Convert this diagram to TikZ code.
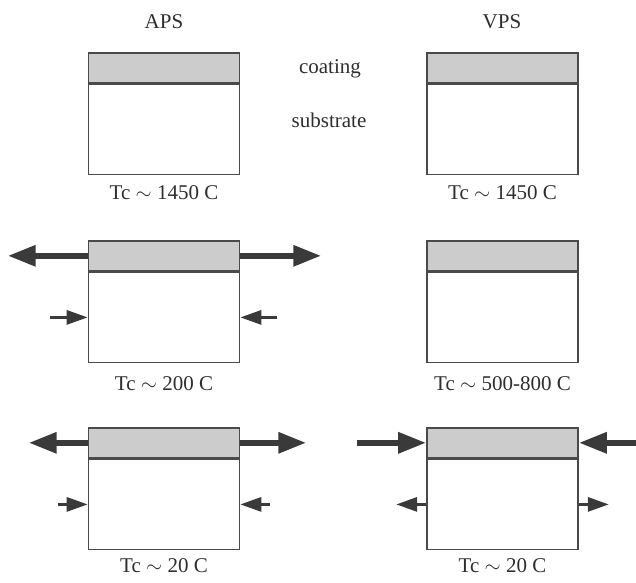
\documentclass[tikz,border=0pt]{standalone}
\usepackage{fontspec}
\setmainfont{Liberation Serif}
\usepackage{tikz}
\usetikzlibrary{arrows.meta, positioning}
\definecolor{edge}{HTML}{4A4A4A}
\definecolor{stress}{HTML}{3A3A3A}
\definecolor{coatfill}{HTML}{CCCCCC}
\definecolor{inktext}{HTML}{2E2E2E}

\begin{document}
\begin{tikzpicture}[x=1pt, y=-1pt,
    coatbox/.style={draw=edge, line width=1.6pt, fill=coatfill, minimum width=151pt, minimum height=30pt, inner sep=0pt, anchor=north},
    subbox/.style={draw=edge, line width=1.6pt, fill=white, minimum width=151pt, minimum height=90pt, inner sep=0pt, below=0pt of #1},
    caption/.style={font=\fontsize{21}{24}\selectfont\color{inktext}},
    bigarrow/.style={draw=stress, line width=6pt, -{Triangle[length=28pt, width=20pt]}},
    smallarrow/.style={draw=stress, line width=3pt, -{Triangle[length=21pt, width=14pt]}},
]
    \useasboundingbox (0,0) rectangle (636,582);

    % column headings
    \node[caption] (aps) at (164,22) {APS};
    \node[caption] (vps) at (502,22) {VPS};
    \node[caption] (coat) at (330,69) {coating};
    \node[caption] (subs) at (329,120) {substrate};

    % APS column
    \node[coatbox] (a1c) at (164,52) {};
    \node[subbox=a1c] (a1s) {};
    \node[coatbox] (a2c) at (164,240) {};
    \node[subbox=a2c] (a2s) {};
    \node[coatbox] (a3c) at (164,427) {};
    \node[subbox=a3c] (a3s) {};

    % VPS column
    \node[coatbox] (v1c) at (502.5,52) {};
    \node[subbox=v1c] (v1s) {};
    \node[coatbox] (v2c) at (502.5,240) {};
    \node[subbox=v2c] (v2s) {};
    \node[coatbox] (v3c) at (502.5,427) {};
    \node[subbox=v3c] (v3s) {};

    % temperatures
    \node[caption] (a1t) at (164,193) {Tc $\sim$ 1450 C};
    \node[caption] (v1t) at (502.5,193) {Tc $\sim$ 1450 C};
    \node[caption] (a2t) at (164,384) {Tc $\sim$ 200 C};
    \node[caption] (v2t) at (502.5,384) {Tc $\sim$ 500-800 C};
    \node[caption] (a3t) at (164,566) {Tc $\sim$ 20 C};
    \node[caption] (v3t) at (502.5,566) {Tc $\sim$ 20 C};

    % arrow ends
    \coordinate (a2l) at ([xshift=-80pt]a2c.west);
    \coordinate (a2r) at ([xshift=81pt]a2c.east);
    \coordinate (a2sl) at ([xshift=-38pt]a2s.west);
    \coordinate (a2sr) at ([xshift=37pt]a2s.east);
    \coordinate (a3l) at ([xshift=-59pt]a3c.west);
    \coordinate (a3r) at ([xshift=66pt]a3c.east);
    \coordinate (a3sl) at ([xshift=-30pt]a3s.west);
    \coordinate (a3sr) at ([xshift=30pt]a3s.east);
    \coordinate (v3l) at ([xshift=-69pt]v3c.west);
    \coordinate (v3r) at ([xshift=60pt]v3c.east);
    \coordinate (v3sl) at ([xshift=-30pt]v3s.west);
    \coordinate (v3sr) at ([xshift=30pt]v3s.east);

    % APS, 200 C
    \draw[bigarrow] (a2c.west) -- (a2l);
    \draw[bigarrow] (a2c.east) -- (a2r);
    \draw[smallarrow] (a2sl) -- (a2s.west);
    \draw[smallarrow] (a2sr) -- (a2s.east);

    % APS, 20 C
    \draw[bigarrow] (a3c.west) -- (a3l);
    \draw[bigarrow] (a3c.east) -- (a3r);
    \draw[smallarrow] (a3sl) -- (a3s.west);
    \draw[smallarrow] (a3sr) -- (a3s.east);

    % VPS, 20 C
    \draw[bigarrow] (v3l) -- (v3c.west);
    \draw[bigarrow] (v3r) -- (v3c.east);
    \draw[smallarrow] (v3s.west) -- (v3sl);
    \draw[smallarrow] (v3s.east) -- (v3sr);
\end{tikzpicture}
\end{document}
